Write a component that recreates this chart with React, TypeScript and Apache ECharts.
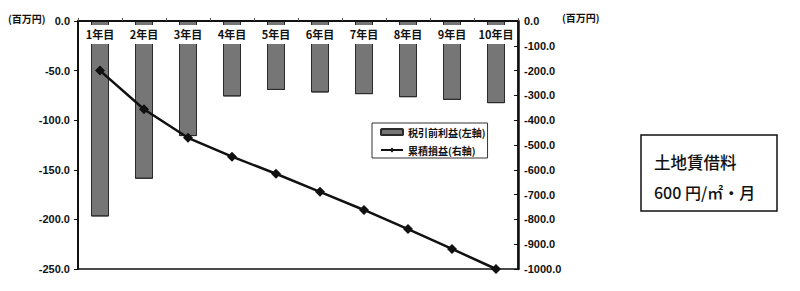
import React, { useEffect, useRef } from "react";
import * as echarts from "echarts";

const categories = ["1年目", "2年目", "3年目", "4年目", "5年目", "6年目", "7年目", "8年目", "9年目", "10年目"];
const pretaxProfit = [-197, -159, -116, -76, -69.5, -72, -73.7, -76.8, -79.5, -82.8];
const cumulativeLoss = [-200, -356, -471, -547, -616, -689, -762, -839, -919, -1000];
const leftTicks = { min: -250, max: 0, interval: 50 };
const rightTicks = { min: -1000, max: 0, interval: 100 };
const seriesNames = ["税引前利益(左軸)", "累積損益(右軸)"];
const unitLabel = "(百万円)";
const noteLines = ["土地賃借料", "600 円/㎡・月"];

const numFont = "'Liberation Sans', Arial, sans-serif";
const jpFont = "'Noto Sans CJK JP', sans-serif";

export default function App() {
  const ref = useRef<HTMLDivElement>(null);
  useEffect(() => {
    document.body.style.margin = "0";
    const chart = echarts.init(ref.current!, null, { renderer: "svg" });
    chart.setOption({
      animation: false,
      backgroundColor: "#fff",
      grid: {
        left: 78,
        right: 282,
        top: 21,
        bottom: 22,
        show: true,
        borderColor: "#111",
        borderWidth: 1.5,
        backgroundColor: "transparent",
      },
      legend: {
        orient: "vertical",
        left: 372,
        top: 123,
        data: seriesNames,
        itemWidth: 22,
        itemHeight: 6,
        itemGap: 6,
        padding: [3, 2, 2, 8],
        borderColor: "#333",
        borderWidth: 1,
        backgroundColor: "#fff",
        textStyle: { fontSize: 10, lineHeight: 12, fontWeight: "bold", fontFamily: jpFont, color: "#111" },
      },
      xAxis: {
        type: "category",
        data: categories,
        position: "top",
        z: 10,
        axisLine: { show: true, lineStyle: { color: "#111", width: 2 } },
        axisTick: { show: true, length: 3, lineStyle: { color: "#555" } },
        axisLabel: {
          inside: true,
          margin: 4,
          fontSize: 11,
          fontWeight: "bold",
          fontFamily: jpFont,
          color: "#111",
          backgroundColor: "#fff",
          padding: [4, 1, 4, 1],
          interval: 0,
        },
        splitLine: { show: false },
      },
      yAxis: [
        {
          type: "value",
          min: leftTicks.min,
          max: leftTicks.max,
          interval: leftTicks.interval,
          position: "left",
          axisLine: { show: true, lineStyle: { color: "#111", width: 2 } },
          axisTick: { show: true, length: 4, lineStyle: { color: "#111" } },
          axisLabel: {
            margin: 8,
            fontSize: 11,
            fontWeight: "bold",
            fontFamily: numFont,
            color: "#111",
            formatter: (v: number) => v.toFixed(1),
          },
          splitLine: { show: false },
        },
        {
          type: "value",
          min: rightTicks.min,
          max: rightTicks.max,
          interval: rightTicks.interval,
          position: "right",
          axisLine: { show: true, lineStyle: { color: "#111", width: 2.5 } },
          axisTick: { show: true, inside: true, length: 4, lineStyle: { color: "#111" } },
          axisLabel: {
            margin: 6,
            fontSize: 11,
            fontWeight: "bold",
            fontFamily: numFont,
            color: "#111",
            formatter: (v: number) => v.toFixed(1),
          },
          splitLine: { show: false },
        },
      ],
      series: [
        {
          name: seriesNames[0],
          type: "bar",
          yAxisIndex: 0,
          data: pretaxProfit,
          barWidth: 18,
          itemStyle: {
            color: "#767676",
            borderColor: "#2a2a2a",
            borderWidth: 1,
            decal: {
              symbol: "circle",
              symbolSize: 0.5,
              color: "rgba(220,220,220,0.45)",
              dashArrayX: [1, 2],
              dashArrayY: [1, 2],
              rotation: 0.6,
            },
          },
        },
        {
          name: seriesNames[1],
          type: "line",
          yAxisIndex: 1,
          data: cumulativeLoss,
          z: 5,
          symbol: "diamond",
          symbolSize: 10,
          lineStyle: { color: "#111", width: 2.5 },
          itemStyle: { color: "#111" },
        },
      ],
      graphic: [
        {
          type: "text",
          left: 8,
          top: 13,
          style: { text: unitLabel, font: `bold 10px ${jpFont}`, fill: "#111" },
        },
        {
          type: "text",
          left: 562,
          top: 12,
          style: { text: unitLabel, font: `bold 10px ${jpFont}`, fill: "#111" },
        },
        {
          type: "rect",
          shape: { x: 641, y: 135, width: 136, height: 76 },
          style: { fill: "none", stroke: "#111", lineWidth: 1.5 },
        },
        {
          type: "text",
          x: 654,
          y: 162,
          style: { text: noteLines[0], font: `500 16.5px ${jpFont}`, fill: "#111", verticalAlign: "middle" },
        },
        {
          type: "text",
          x: 654,
          y: 192,
          style: { text: noteLines[1], font: `500 16px ${jpFont}`, fill: "#111", verticalAlign: "middle" },
        },
      ],
    });
    return () => chart.dispose();
  }, []);
  return <div ref={ref} style={{ position: "absolute", left: 0, top: 0, width: 800, height: 291 }} />;
}
